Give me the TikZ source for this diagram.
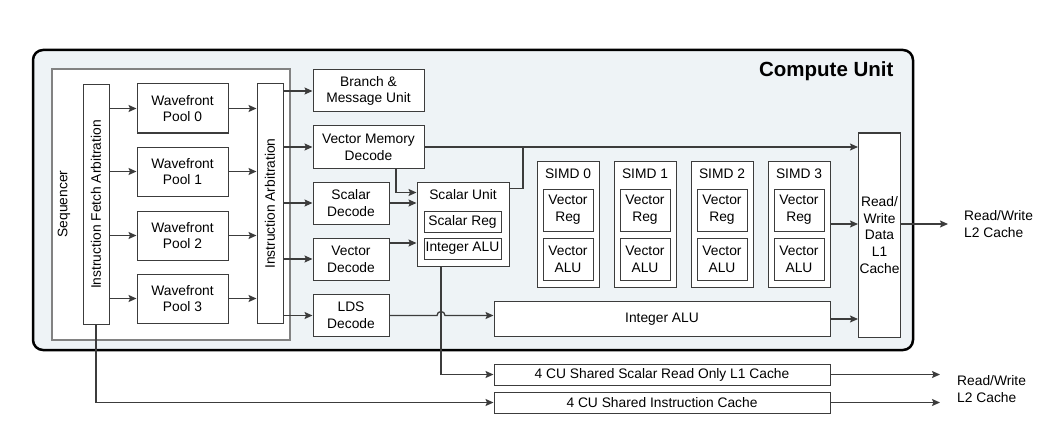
\documentclass[tikz,border=0pt]{standalone}
\usepackage{fontspec}
\setmainfont{Liberation Sans}
\usetikzlibrary{arrows.meta}
\definecolor{cufill}{RGB}{238,243,246}
\definecolor{boxline}{RGB}{60,60,60}
\definecolor{seqline}{RGB}{130,130,130}
\begin{document}
\begin{tikzpicture}[x=1pt,y=-1pt,
    txt/.style={font=\fontsize{13.8}{16.7}\selectfont, align=center, inner sep=0pt},
    blk/.style={txt, draw=boxline, fill=white, line width=1pt},
    arr/.style={draw=boxline, line width=1.3pt, -{Stealth[length=8pt,width=7pt,inset=1.5pt]}},
    wire/.style={draw=boxline, line width=1.3pt}]
  \useasboundingbox[fill=white] (0,0) rectangle (1062,425);

  % compute unit frame
  \node[draw=black, fill=cufill, line width=2.5pt, rounded corners=10pt,
        minimum width=880pt, minimum height=300pt] (cu) at (473,200) {};
  \node[anchor=east, font=\bfseries\fontsize{20.5}{24}\selectfont] (cutitle) at (897,71) {Compute Unit};

  % sequencer
  \node[draw=seqline, fill=white, line width=1.3pt, minimum width=238pt, minimum height=271pt] (seq) at (171,204.5) {};
  \node[txt, rotate=90] (seqlabel) at (64,204) {Sequencer};
  \node[blk, minimum width=26pt, minimum height=239pt,
        label={[txt, rotate=90]center:Instruction Fetch Arbitration}] (ifa) at (96,204.5) {};
  \node[blk, minimum width=26pt, minimum height=239pt,
        label={[txt, rotate=90]center:Instruction Arbitration}] (ia) at (270,203.5) {};

  \node[blk, minimum width=91pt, minimum height=49pt] (p0) at (182.5,108.5) {Wavefront\\Pool 0};
  \node[blk, minimum width=91pt, minimum height=49pt] (p1) at (182.5,171.5) {Wavefront\\Pool 1};
  \node[blk, minimum width=91pt, minimum height=49pt] (p2) at (182.5,235.5) {Wavefront\\Pool 2};
  \node[blk, minimum width=91pt, minimum height=49pt] (p3) at (182.5,298.5) {Wavefront\\Pool 3};

  % decoders
  \node[blk, minimum width=111pt, minimum height=42pt] (bmu) at (368.5,91) {Branch \&\\Message Unit};
  \node[blk, minimum width=111pt, minimum height=42pt] (vmd) at (368.5,147) {Vector Memory\\Decode};
  \node[blk, minimum width=76pt, minimum height=42pt] (sdec) at (351,203) {Scalar\\Decode};
  \node[blk, minimum width=76pt, minimum height=42pt] (vdec) at (351,259) {Vector\\Decode};
  \node[blk, minimum width=76pt, minimum height=42pt] (ldsdec) at (351,315.5) {LDS\\Decode};

  % scalar unit
  \node[blk, minimum width=92pt, minimum height=84pt] (su) at (463,224) {};
  \node[txt] (sutitle) at (463,195) {Scalar Unit};
  \node[blk, minimum width=77pt, minimum height=21pt] (sreg) at (462.5,221.5) {Scalar Reg};
  \node[blk, minimum width=77pt, minimum height=21pt] (ialu) at (462.5,248.5) {Integer ALU};

  % simd units
  \begin{scope}[shift={(568,0)}]
    \node[blk, minimum width=62pt, minimum height=126pt] (simd0) at (0,224) {};
    \node[txt] (simd0t) at (0,174) {SIMD 0};
    \node[blk, minimum width=50pt, minimum height=42pt] (vreg0) at (0,210) {Vector\\Reg};
    \node[blk, minimum width=50pt, minimum height=42pt] (valu0) at (0,259) {Vector\\ALU};
  \end{scope}
  \begin{scope}[shift={(645,0)}]
    \node[blk, minimum width=62pt, minimum height=126pt] (simd1) at (0,224) {};
    \node[txt] (simd1t) at (0,174) {SIMD 1};
    \node[blk, minimum width=50pt, minimum height=42pt] (vreg1) at (0,210) {Vector\\Reg};
    \node[blk, minimum width=50pt, minimum height=42pt] (valu1) at (0,259) {Vector\\ALU};
  \end{scope}
  \begin{scope}[shift={(722,0)}]
    \node[blk, minimum width=62pt, minimum height=126pt] (simd2) at (0,224) {};
    \node[txt] (simd2t) at (0,174) {SIMD 2};
    \node[blk, minimum width=50pt, minimum height=42pt] (vreg2) at (0,210) {Vector\\Reg};
    \node[blk, minimum width=50pt, minimum height=42pt] (valu2) at (0,259) {Vector\\ALU};
  \end{scope}
  \begin{scope}[shift={(799,0)}]
    \node[blk, minimum width=62pt, minimum height=126pt] (simd3) at (0,224) {};
    \node[txt] (simd3t) at (0,174) {SIMD 3};
    \node[blk, minimum width=50pt, minimum height=42pt] (vreg3) at (0,210) {Vector\\Reg};
    \node[blk, minimum width=50pt, minimum height=42pt] (valu3) at (0,259) {Vector\\ALU};
  \end{scope}

  \node[blk, minimum width=42pt, minimum height=204pt] (l1) at (879.5,235) {Read/\\Write\\Data\\L1\\Cache};
  \node[blk, minimum width=336pt, minimum height=35pt] (intalu) at (662,319) {Integer ALU};
  \node[blk, minimum width=336pt, minimum height=21pt] (scache) at (662,374.5) {4 CU Shared Scalar Read Only L1 Cache};
  \node[blk, minimum width=336pt, minimum height=21pt] (icache) at (662,402.5) {4 CU Shared Instruction Cache};

  \node[txt, anchor=west, align=left] (l2a) at (964,224) {Read/Write\\L2 Cache};
  \node[txt, anchor=west, align=left] (l2b) at (957,389) {Read/Write\\L2 Cache};
  \coordinate (outa) at (948,224);
  \coordinate (outb) at (940,389);
  \coordinate (tap) at (523,147);
  \coordinate (jump) at ([xshift=-22pt]su.south |- ldsdec.east);

  % connectors
  \draw[arr] (ifa.east |- p0.west) -- (p0.west);
  \draw[arr] (ifa.east |- p1.west) -- (p1.west);
  \draw[arr] (ifa.east |- p2.west) -- (p2.west);
  \draw[arr] (ifa.east |- p3.west) -- (p3.west);
  \draw[arr] (p0.east) -- (p0.east -| ia.west);
  \draw[arr] (p1.east) -- (p1.east -| ia.west);
  \draw[arr] (p2.east) -- (p2.east -| ia.west);
  \draw[arr] (p3.east) -- (p3.east -| ia.west);
  \draw[arr] (ia.east |- bmu.west) -- (bmu.west);
  \draw[arr] (ia.east |- vmd.west) -- (vmd.west);
  \draw[arr] (ia.east |- sdec.west) -- (sdec.west);
  \draw[arr] (ia.east |- vdec.west) -- (vdec.west);
  \draw[arr] (ia.east |- ldsdec.west) -- (ldsdec.west);

  \draw[arr] (vmd.east) -- (vmd.east -| l1.west);
  \draw[wire] ([yshift=-7pt]su.north east) -| (tap);
  \draw[arr] ([xshift=27.5pt]vmd.south) |- ([yshift=-11pt]su.north west);
  \draw[arr] (sdec.east) -- (sdec.east -| su.west);
  \draw[arr] ([yshift=16pt]vdec.east) -- ([yshift=16pt]vdec.east -| su.west);
  \draw[arr] (ldsdec.east) -- ([xshift=-4pt]jump) arc[start angle=180, end angle=0, radius=4pt] -- (jump -| intalu.west);
  \draw[arr] ([xshift=-22pt]su.south) |- (scache.west);
  \draw[arr] (ifa.south) |- (icache.west);

  \draw[arr] (simd3.east) -- (simd3.east -| l1.west);
  \draw[arr] (intalu.east) -- (intalu.east -| l1.west);
  \draw[arr] (l1.east |- outa) -- (outa);
  \draw[arr] (scache.east) -- (scache.east -| outb);
  \draw[arr] (icache.east) -- (icache.east -| outb);
\end{tikzpicture}
\end{document}
